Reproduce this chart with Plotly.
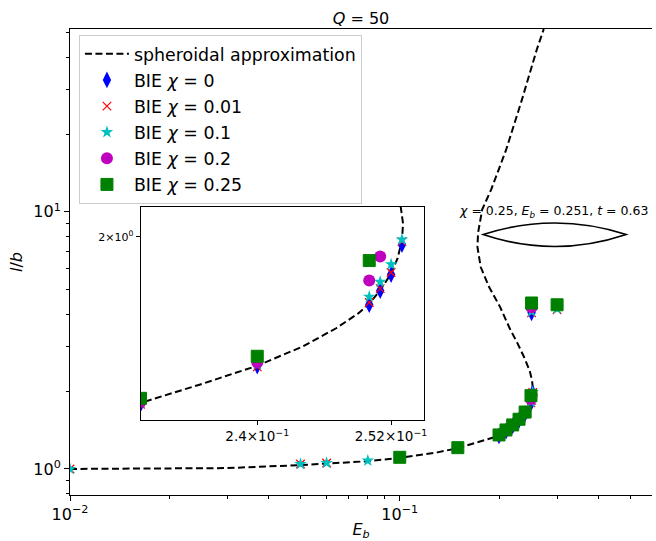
import numpy as np
import plotly.graph_objects as go

# Spheroidal approximation (lower branch -> turning point -> upper branch)
sph_E = [0.0100, 0.0200, 0.0300, 0.0500, 0.0800, 0.1000, 0.1300, 0.1500, 0.1800, 0.2000,
         0.2100, 0.2200, 0.2300, 0.2350, 0.2400, 0.2440, 0.2470, 0.2490, 0.2500, 0.2510,
         0.2520, 0.2526, 0.2530, 0.2531, 0.2529, 0.2520, 0.2480, 0.2390, 0.2270, 0.2160,
         0.2014, 0.1866, 0.1760, 0.1720, 0.1728, 0.1778, 0.1893, 0.2101, 0.2347, 0.2480,
         0.2604, 0.2734]
sph_lb = [1.000, 1.003, 1.008, 1.035, 1.072, 1.105, 1.160, 1.205, 1.290, 1.345,
          1.405, 1.470, 1.550, 1.594, 1.641, 1.690, 1.738, 1.778, 1.805, 1.842,
          1.890, 1.935, 1.990, 2.040, 2.090, 2.200, 2.400, 2.700, 3.100, 3.500,
          4.270, 5.100, 6.100, 7.300, 8.300, 10.20, 12.20, 17.40, 27.30, 35.00,
          42.80, 51.40]

# BIE results for each chi
E_c0 = [0.20, 0.21, 0.22, 0.23, 0.24, 0.25, 0.251, 0.252, 0.253, 0.251]
lb_c0 = [1.345, 1.405, 1.470, 1.547, 1.640, 1.802, 1.841, 1.887, 1.976, 4.05]

E_c001 = [0.01, 0.05, 0.06, 0.20, 0.21, 0.22, 0.23, 0.24, 0.25, 0.251, 0.252, 0.253, 0.251, 0.30]
lb_c001 = [1.00, 1.045, 1.055, 1.345, 1.405, 1.470, 1.547, 1.638, 1.808, 1.847, 1.893, 1.985, 4.05, 4.16]

E_c01 = [0.01, 0.05, 0.06, 0.08, 0.20, 0.21, 0.22, 0.23, 0.24, 0.25, 0.251, 0.252, 0.253, 0.251, 0.30]
lb_c01 = [1.00, 1.045, 1.055, 1.077, 1.350, 1.410, 1.475, 1.550, 1.645, 1.824, 1.866, 1.917, 1.991, 4.10, 4.20]

E_c02 = [0.20, 0.21, 0.22, 0.23, 0.24, 0.25, 0.251, 0.251]
lb_c02 = [1.350, 1.410, 1.478, 1.552, 1.650, 1.870, 1.940, 4.25]

E_c025 = [0.10, 0.15, 0.20, 0.21, 0.22, 0.23, 0.24, 0.25, 0.251, 0.30]
lb_c025 = [1.110, 1.210, 1.356, 1.418, 1.483, 1.561, 1.665, 1.928, 4.42, 4.35]

# highlighted drop shape
shape_chi, shape_E, shape_lb, shape_t = 0.25, 0.251, 4.42, 0.63

series = [
    ("BIE <i>χ</i> = 0", E_c0, lb_c0, dict(symbol="diamond-tall", size=12, color="#0000ff")),
    ("BIE <i>χ</i> = 0.01", E_c001, lb_c001,
     dict(symbol="x-thin", size=8.5, color="#ff0000", line=dict(color="#ff0000", width=1.2))),
    ("BIE <i>χ</i> = 0.1", E_c01, lb_c01, dict(symbol="star", size=9.5, color="#00bfbf")),
    ("BIE <i>χ</i> = 0.2", E_c02, lb_c02, dict(symbol="circle", size=12, color="#bf00bf")),
    ("BIE <i>χ</i> = 0.25", E_c025, lb_c025,
     dict(symbol="square", size=12, color="#008000", line=dict(color="#008000", width=1))),
]

FONT = "DejaVu Sans"
fig = go.Figure()

curve_line = dict(color="black", width=2, dash="7px,3.5px")
for xa, ya, show in (("x", "y", True), ("x2", "y2", False)):
    fig.add_trace(go.Scatter(x=sph_E, y=sph_lb, mode="lines", line=curve_line,
                             name="spheroidal approximation", showlegend=show,
                             legendgroup="sph", xaxis=xa, yaxis=ya))
    for i, (name, ex, ly, mk) in enumerate(series):
        fig.add_trace(go.Scatter(x=ex, y=ly, mode="markers", marker=mk, name=name,
                                 showlegend=show, legendgroup=f"g{i}", xaxis=xa, yaxis=ya))

W, H = 656, 541
ML, MR, MT, MB = 70, 0, 29, 46
pw, ph = W - ML - MR, H - MT - MB


def px_x(p):
    return (p - ML) / pw


def px_y(p):
    return (H - MB - p) / ph


sup = lambda s: f"<sup>{s}</sup>"
axis_common = dict(showline=True, linecolor="black", linewidth=1, ticks="outside",
                   tickcolor="black", tickwidth=1, showgrid=False, zeroline=False,
                   tickfont=dict(family=FONT, size=16, color="black"))

fig.update_layout(
    width=W, height=H,
    margin=dict(l=ML, r=MR, t=MT, b=MB),
    paper_bgcolor="white", plot_bgcolor="white",
    font=dict(family=FONT, color="black"),
    title=dict(text="<i>Q</i> = 50", x=0.5, xref="paper", xanchor="center",
               y=1 - 18 / H, yref="container", yanchor="middle",
               font=dict(family=FONT, size=16, color="black")),
    xaxis=dict(type="log", range=[-2, np.log10(0.582)], mirror=True, ticklen=5,
               tickvals=[0.01, 0.1], ticktext=["10" + sup("−2"), "10" + sup("−1")],
               minor=dict(ticks="outside", ticklen=3, tickcolor="black", showgrid=False,
                          tickvals=[0.02, 0.03, 0.04, 0.05, 0.06, 0.07, 0.08, 0.09, 0.2, 0.3, 0.4, 0.5]),
               title=dict(text="<i>E<sub>b</sub></i>", font=dict(family=FONT, size=16), standoff=4),
               **axis_common),
    yaxis=dict(type="log", range=[np.log10(0.792), np.log10(51.4)], mirror=False, ticklen=5,
               tickvals=[1, 10], ticktext=["10" + sup("0"), "10" + sup("1")],
               minor=dict(ticks="outside", ticklen=3, tickcolor="black", showgrid=False,
                          tickvals=[0.8, 0.9, 2, 3, 4, 5, 6, 7, 8, 9, 20, 30, 40, 50]),
               title=dict(text="<i>l</i>/<i>b</i>", font=dict(family=FONT, size=16), standoff=6),
               **axis_common),
    xaxis2=dict(type="log", domain=[px_x(141), px_x(426)], anchor="y2",
                range=[np.log10(0.23), np.log10(0.255)], mirror=True, ticklen=4,
                tickvals=[0.24, 0.252], ticktext=["2.4×10" + sup("−1"), "2.52×10" + sup("−1")],
                **{**axis_common, "tickfont": dict(family=FONT, size=13.5, color="black")}),
    yaxis2=dict(type="log", domain=[px_y(420), px_y(207)], anchor="x2",
                range=[np.log10(1.51), np.log10(2.093)], mirror=True, ticklen=4,
                tickvals=[2], ticktext=["2×10" + sup("0")],
                **{**axis_common, "tickfont": dict(family=FONT, size=11, color="black")}),
    legend=dict(x=px_x(79), y=px_y(35), xanchor="left", yanchor="top",
                bgcolor="rgba(255,255,255,0.8)", bordercolor="#cccccc", borderwidth=1,
                font=dict(family=FONT, size=17.4, color="black"), traceorder="grouped",
                tracegroupgap=0.5, itemwidth=44),
    showlegend=True,
)

# drop shape sketch above its data point
lx0, lx1, lyc = px_x(486), px_x(630), px_y(234.5)
lxc = (lx0 + lx1) / 2
ly_top, ly_bot = px_y(211.5), px_y(258.5)
fig.add_shape(type="path", xref="paper", yref="paper",
              path=f"M {lx0},{lyc} Q {lxc},{ly_top} {lx1},{lyc} Q {lxc},{ly_bot} {lx0},{lyc} Z",
              line=dict(color="black", width=1.6), fillcolor="rgba(0,0,0,0)")

fig.add_annotation(x=px_x(557), y=px_y(211), xref="paper", yref="paper", showarrow=False,
                   xanchor="center", yanchor="middle",
                   text=f"<i>χ</i> = {shape_chi}, <i>E<sub>b</sub></i> = {shape_E}, <i>t</i> = {shape_t}",
                   font=dict(family=FONT, size=12.5, color="black"))

# pointer from the drop sketch to its data point
fig.add_shape(type="line", xref="x", yref="y", xsizemode="pixel", ysizemode="pixel",
              xanchor=np.log10(shape_E), yanchor=np.log10(shape_lb),
              x0=-4, y0=6, x1=40, y1=52, line=dict(color="black", width=1.6))

fig.write_html("out.html")
